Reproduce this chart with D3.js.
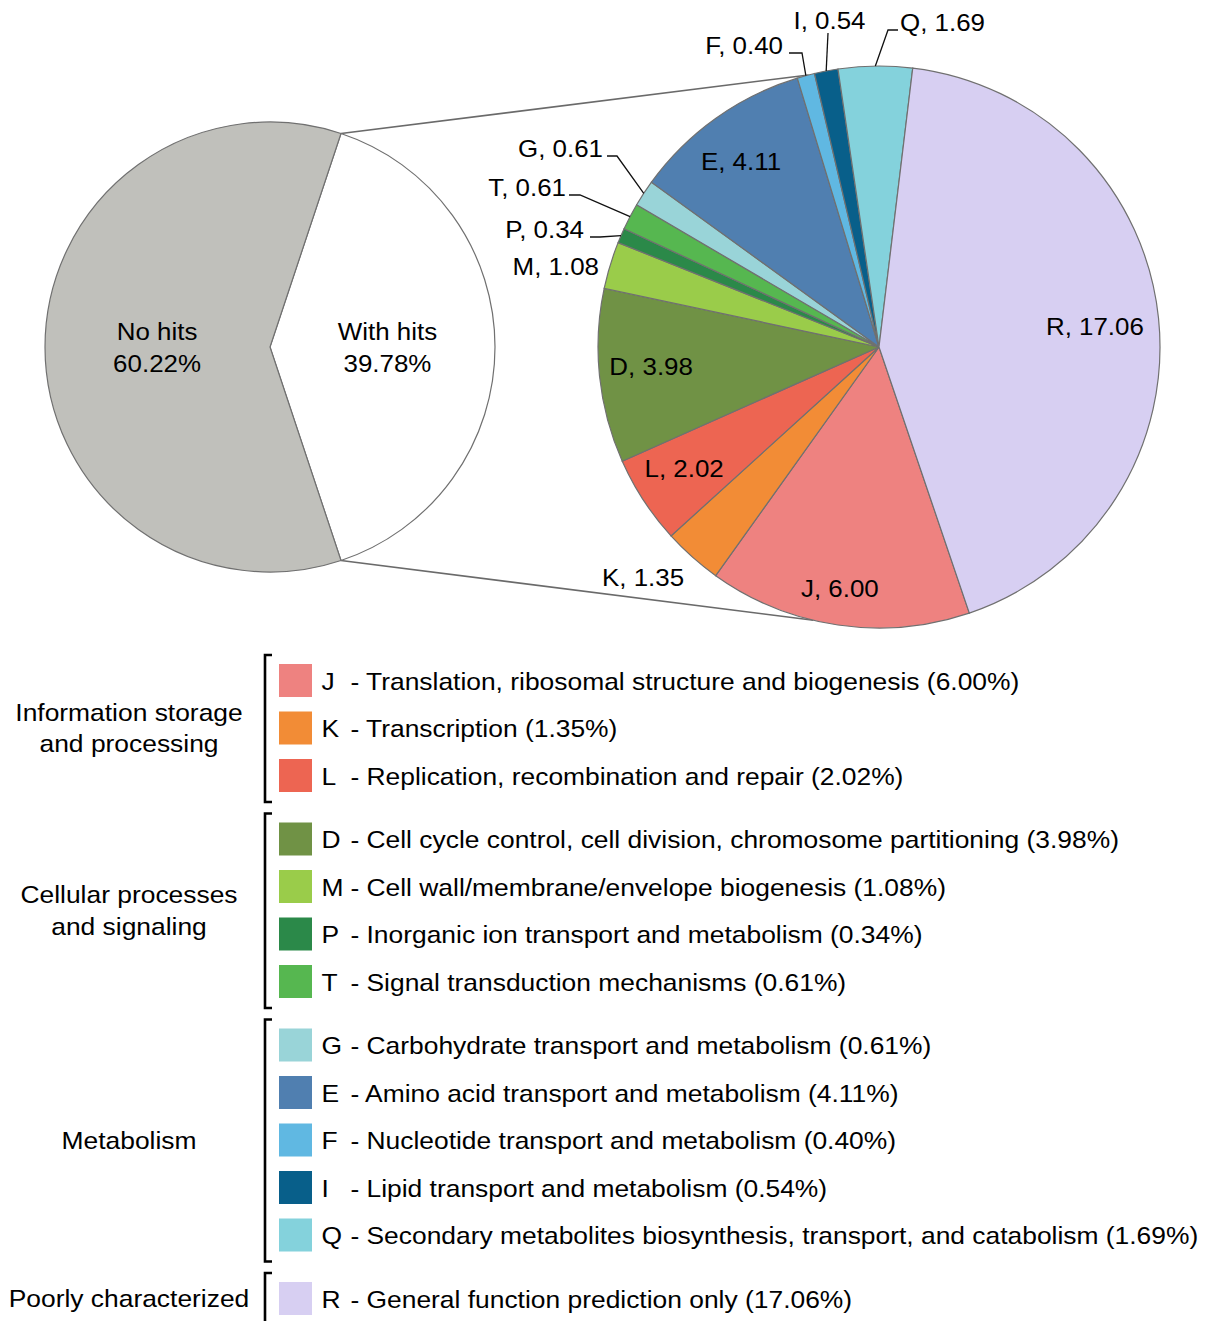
<!DOCTYPE html>
<html>
<head>
<meta charset="utf-8">
<script src="https://cdn.jsdelivr.net/npm/d3@7"></script>
<style>
  body { margin: 0; background: #fff; }
  svg { display: block; }
  text { font-family: "Liberation Sans", Arial, Helvetica, sans-serif; fill: #000; }
</style>
</head>
<body>
<svg id="chart" width="1205" height="1321"></svg>
<script>
// Share of predicted genes with / without a COG hit (%)
const overviewLabels = ["With hits", "No hits"];
const overviewValues = [39.78, 60.22];

// COG functional categories (% of all genes)
const cogCodes  = ["J", "K", "L", "D", "M", "P", "T", "G", "E", "F", "I", "Q", "R"];
const cogValues = [6.00, 1.35, 2.02, 3.98, 1.08, 0.34, 0.61, 0.61, 4.11, 0.40, 0.54, 1.69, 17.06];
const cogNames  = [
  "Translation, ribosomal structure and biogenesis",
  "Transcription",
  "Replication, recombination and repair",
  "Cell cycle control, cell division, chromosome partitioning",
  "Cell wall/membrane/envelope biogenesis",
  "Inorganic ion transport and metabolism",
  "Signal transduction mechanisms",
  "Carbohydrate transport and metabolism",
  "Amino acid transport and metabolism",
  "Nucleotide transport and metabolism",
  "Lipid transport and metabolism",
  "Secondary metabolites biosynthesis, transport, and catabolism",
  "General function prediction only"
];

// Functional groups and how many categories each holds (in legend order)
const groupNames = [["Information storage", "and processing"], ["Cellular processes", "and signaling"], ["Metabolism"], ["Poorly characterized"]];
const groupSizes = [3, 4, 5, 1];

// ---- styles ----
const overviewColors = ["#ffffff", "#c0c0bb"];
const cogColors = ["#ee8280", "#f28c36", "#ed6552", "#709245", "#9acc4a", "#2b8949", "#56b750",
                   "#99d4d8", "#507fb0", "#60b8e2", "#085f8a", "#84d2dc", "#d7cff2"];
const FS = 24;          // font size
const SX_PIE = 1.08;    // horizontal stretch of the typeface, pie labels
const SX_LEG = 1.10;    // horizontal stretch of the typeface, legend
const deg = Math.PI / 180;

const svg = d3.select("#chart");

function txt(g, x, y, s, anchor, sx) {
  return g.append("text")
    .attr("transform", `translate(${x},${y}) scale(${sx || SX_PIE},1)`)
    .attr("text-anchor", anchor || "start")
    .attr("font-size", FS)
    .text(s);
}
const capHalf = 0.358 * FS;

// ---- geometry ----
const ov = { cx: 270, cy: 347, r: 225 };
const dt = { cx: 879, cy: 347, r: 281 };
const polar = (c, a, rad) => [c.cx + rad * Math.sin(a), c.cy - rad * Math.cos(a)];

// Overview pie: the "With hits" wedge is centred on 3 o'clock
const withShare = overviewValues[0] / d3.sum(overviewValues);
const ovStart = Math.PI / 2 - withShare * Math.PI;
const ovPie = d3.pie().sort(null).startAngle(ovStart).endAngle(ovStart + 2 * Math.PI);
const ovArcs = ovPie(overviewValues);
const ovArc = d3.arc().innerRadius(0).outerRadius(ov.r);

// Detail pie: R begins just right of 12 o'clock, the rest follows clockwise after it
const total = d3.sum(cogValues);
const iR = cogCodes.indexOf("R");
const rStart = 6.9 * deg;
const dtStart = rStart + (cogValues[iR] / total) * 2 * Math.PI;
const dtPie = d3.pie().sort(null).startAngle(dtStart).endAngle(dtStart + 2 * Math.PI);
const dtArcs = dtPie(cogValues);
const dtArc = d3.arc().innerRadius(0).outerRadius(dt.r);

// ---- connector lines between the two pies ----
const wArc = ovArcs[0];
const connTop = [polar(ov, wArc.startAngle, ov.r), polar(dt, -14.5 * deg, dt.r)];
const connBot = [polar(ov, wArc.endAngle, ov.r), polar(dt, 193.5 * deg, dt.r)];
svg.append("g").selectAll("line").data([connTop, connBot]).join("line")
  .attr("x1", d => d[0][0]).attr("y1", d => d[0][1])
  .attr("x2", d => d[1][0]).attr("y2", d => d[1][1])
  .attr("stroke", "#6a6a6a").attr("stroke-width", 1.6);

// ---- overview pie ----
const gOv = svg.append("g").attr("transform", `translate(${ov.cx},${ov.cy})`);
gOv.selectAll("path").data(ovArcs).join("path")
  .attr("d", ovArc)
  .attr("fill", (d, i) => overviewColors[i])
  .attr("stroke", "#707070").attr("stroke-width", 1.2);

const ovLabelRadius = [0.522, 0.502];
ovArcs.forEach((a, i) => {
  const mid = (a.startAngle + a.endAngle) / 2;
  const [x, y] = polar(ov, mid, ov.r * ovLabelRadius[i]);
  txt(svg, x, y - 16 + capHalf, overviewLabels[i], "middle");
  txt(svg, x, y + 16 + capHalf, overviewValues[i].toFixed(2) + "%", "middle");
});

// ---- detail pie ----
const gDt = svg.append("g").attr("transform", `translate(${dt.cx},${dt.cy})`);
gDt.selectAll("path").data(dtArcs).join("path")
  .attr("d", dtArc)
  .attr("fill", (d, i) => cogColors[i])
  .attr("stroke", "#707070").attr("stroke-width", 1.2);

// label placement: inside labels as [radius factor, angular nudge in degrees]
const insideLabels = { R: [0.772, 0.35], J: [0.872, 0.8], L: [0.818, 1.1], D: [0.814, 1.0], E: [0.824, -1.1] };
const leaderLabels = {
  G: { ex: -262, ey: -191, seg: -10, gap: 4 },
  T: { ex: -299, ey: -152, seg: -11, gap: 3 },
  P: { ex: -279, ey: -110, seg: -10, gap: 6 },
  F: { ex: -77,  ey: -294, seg: -13, gap: 6 },
  I: { ex: -51,  ey: -314, seg: 0,   gap: 0, above: true },
  Q: { ex: 9,    ey: -317, seg: 10,  gap: 2 }
};
const freeLabels = { M: { dx: -280, dy: -72, anchor: "end" }, K: { dx: -277, dy: 239, anchor: "start" } };

const gLab = svg.append("g");
const gLead = svg.append("g").attr("fill", "none").attr("stroke", "#111").attr("stroke-width", 1.3);

dtArcs.forEach((a, i) => {
  const code = cogCodes[i];
  const s = `${code}, ${cogValues[i].toFixed(2)}`;
  const mid = (a.startAngle + a.endAngle) / 2;
  if (insideLabels[code]) {
    const [rf, nudge] = insideLabels[code];
    const [x, y] = polar(dt, mid + nudge * deg, dt.r * rf);
    txt(gLab, x, y + capHalf, s, "middle");
  } else if (leaderLabels[code]) {
    const L = leaderLabels[code];
    const edge = polar(dt, mid, dt.r);
    const ex = dt.cx + L.ex, ey = dt.cy + L.ey;
    gLead.append("path").attr("d", `M${edge[0]},${edge[1]}L${ex},${ey}h${L.seg}`);
    if (L.above) {
      txt(gLab, ex + 1.5, ey - 4, s, "middle");
    } else if (L.seg < 0) {
      txt(gLab, ex + L.seg - L.gap, ey + 1, s, "end");
    } else {
      txt(gLab, ex + L.seg + L.gap, ey + 1, s, "start");
    }
  } else if (freeLabels[code]) {
    const F = freeLabels[code];
    txt(gLab, dt.cx + F.dx, dt.cy + F.dy, s, F.anchor);
  }
});

// ---- legend ----
const lg = { top: 664, step: 47.5, groupGap: 16, sw: 33, swX: 279, codeX: 321.5, descX: 350.4,
             brX: 265, brTick: 7, groupX: 129, lineGap: 31.5 };
const gLeg = svg.append("g");
let row = 0, yOff = 0;
groupSizes.forEach((n, gi) => {
  const top0 = lg.top + row * lg.step + yOff;
  for (let k = 0; k < n; k++) {
    const i = row + k;
    const y = top0 + k * lg.step;
    gLeg.append("rect").attr("x", lg.swX).attr("y", y).attr("width", lg.sw).attr("height", lg.sw)
      .attr("fill", cogColors[i]);
    const cy = y + lg.sw / 2;
    txt(gLeg, lg.codeX, cy + capHalf + 0.8, cogCodes[i], "start", SX_LEG);
    txt(gLeg, lg.descX, cy + capHalf + 0.8, `- ${cogNames[i]} (${cogValues[i].toFixed(2)}%)`, "start", SX_LEG);
  }
  const bTop = top0 - 9;
  const bBot = top0 + (n - 1) * lg.step + lg.sw + 10;
  gLeg.append("path")
    .attr("d", `M${lg.brX + lg.brTick},${bTop}H${lg.brX}V${bBot}H${lg.brX + lg.brTick}`)
    .attr("fill", "none").attr("stroke", "#000").attr("stroke-width", 2.6);
  const gc = top0 + ((n - 1) * lg.step + lg.sw) / 2;
  const lines = groupNames[gi];
  lines.forEach((ln, li) => {
    const c = gc + (li - (lines.length - 1) / 2) * lg.lineGap;
    txt(gLeg, lg.groupX, c + capHalf, ln, "middle", SX_LEG);
  });
  row += n;
  yOff += lg.groupGap;
});
</script>
</body>
</html>
